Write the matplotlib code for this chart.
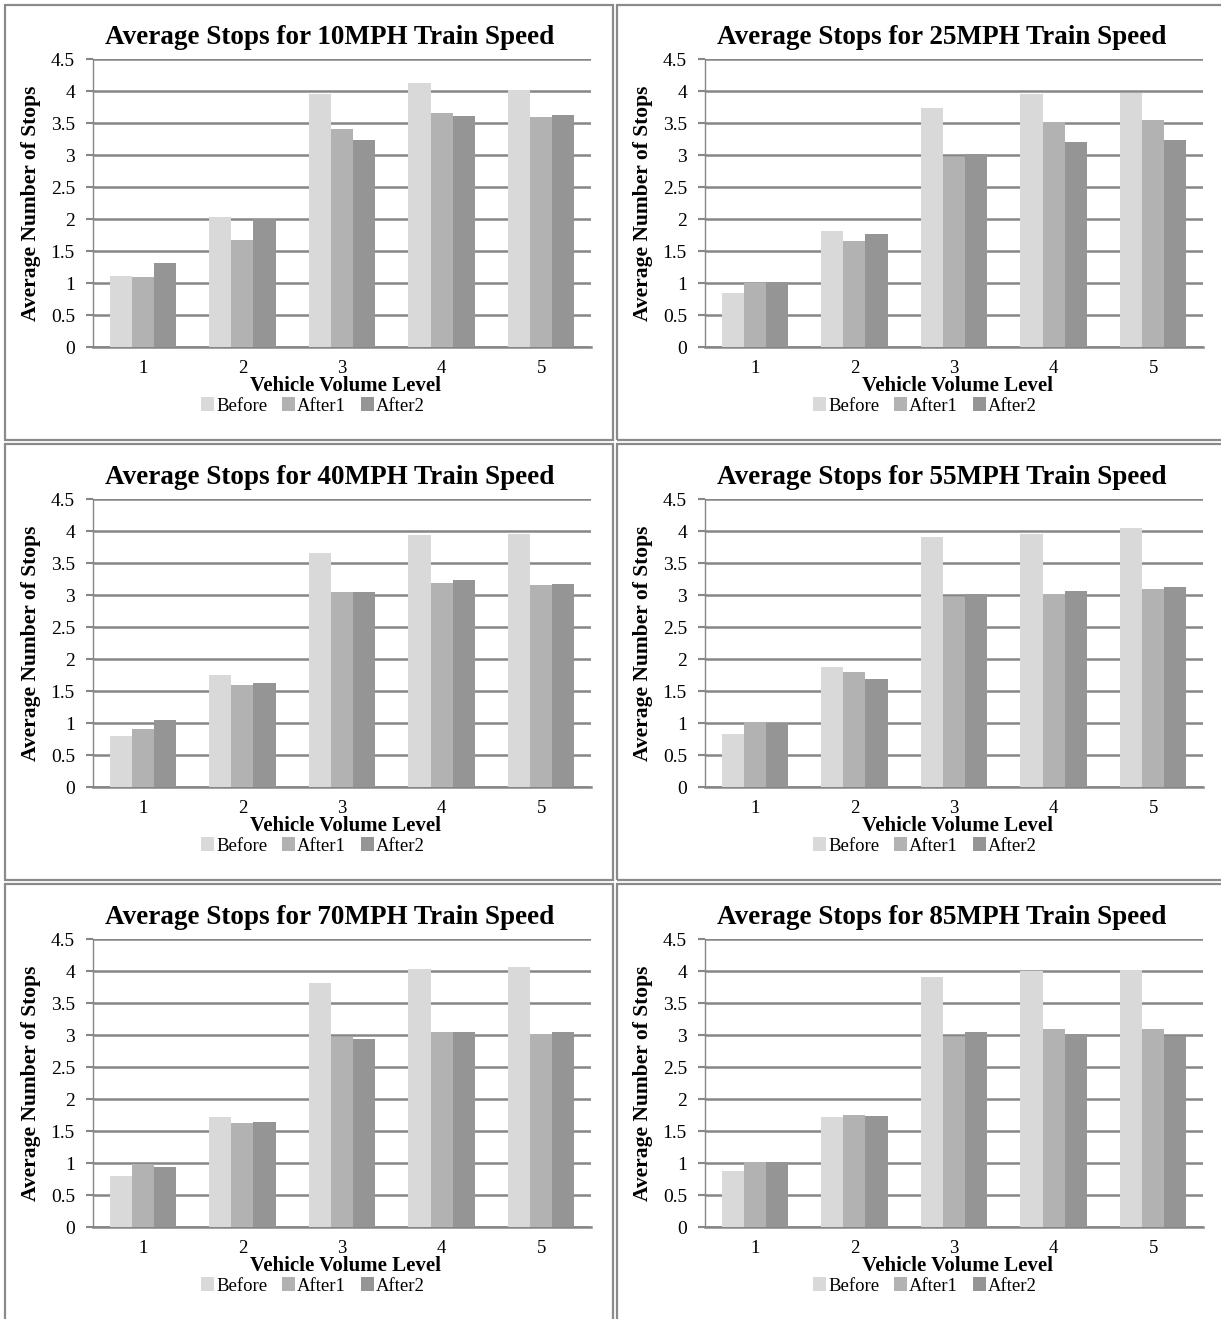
import matplotlib.pyplot as plt
import numpy as np
from matplotlib.patches import Rectangle

# Vehicle volume levels (x categories)
levels = [1, 2, 3, 4, 5]
series_names = ['Before', 'After1', 'After2']
speeds = ['10MPH', '25MPH', '40MPH', '55MPH', '70MPH', '85MPH']

# Average number of stops, per train speed
before_10 = [1.11, 2.03, 3.95, 4.12, 4.01]
after1_10 = [1.10, 1.67, 3.41, 3.65, 3.60]
after2_10 = [1.32, 2.00, 3.23, 3.61, 3.62]

before_25 = [0.84, 1.82, 3.73, 3.95, 3.97]
after1_25 = [1.00, 1.66, 2.97, 3.51, 3.54]
after2_25 = [1.01, 1.76, 3.01, 3.21, 3.24]

before_40 = [0.79, 1.75, 3.65, 3.93, 3.96]
after1_40 = [0.90, 1.60, 3.05, 3.18, 3.15]
after2_40 = [1.04, 1.62, 3.05, 3.24, 3.17]

before_55 = [0.83, 1.87, 3.90, 3.95, 4.05]
after1_55 = [1.02, 1.79, 2.97, 3.02, 3.09]
after2_55 = [1.00, 1.68, 3.02, 3.07, 3.12]

before_70 = [0.79, 1.72, 3.82, 4.03, 4.06]
after1_70 = [0.98, 1.63, 2.97, 3.04, 3.02]
after2_70 = [0.93, 1.64, 2.94, 3.04, 3.04]

before_85 = [0.88, 1.72, 3.91, 4.00, 4.01]
after1_85 = [1.02, 1.75, 2.97, 3.09, 3.09]
after2_85 = [1.02, 1.74, 3.04, 3.01, 2.98]

panels = [
    (before_10, after1_10, after2_10),
    (before_25, after1_25, after2_25),
    (before_40, after1_40, after2_40),
    (before_55, after1_55, after2_55),
    (before_70, after1_70, after2_70),
    (before_85, after1_85, after2_85),
]

colors = ['#d9d9d9', '#b2b2b2', '#959595']
grid_color = '#868686'

plt.rcParams['font.family'] = ['Liberation Serif', 'DejaVu Serif']

W, H = 1221, 1319
fig = plt.figure(figsize=(W / 100, H / 100), dpi=100)

# axes positions in pixels: (left, right) per column, zero-line y per row
col_x = [(93, 591), (705, 1203)]
row_zero = [347, 787, 1227]
plot_h = 288

# panel frames (pixels: x0, y0, x1, y1) - right/bottom ones run off the page
frames = [(5, 5, 613, 440), (617, 5, 1235, 440),
          (5, 444, 613, 880), (617, 444, 1235, 880),
          (5, 884, 613, 1335), (617, 884, 1235, 1335)]

for (x0, y0, x1, y1) in frames:
    fig.add_artist(Rectangle((x0 / W, 1 - y1 / H), (x1 - x0) / W, (y1 - y0) / H,
                             transform=fig.transFigure, fill=False,
                             edgecolor='#8a8a8a', linewidth=1.6))

x = np.arange(len(levels)) + 1
width = 0.222

for i, (speed, data) in enumerate(zip(speeds, panels)):
    row, col = divmod(i, 2)
    left, right = col_x[col]
    bottom = 1 - row_zero[row] / H
    ax = fig.add_axes([left / W, bottom, (right - left) / W, plot_h / H])

    for j, (vals, name) in enumerate(zip(data, series_names)):
        ax.bar(x + (j - 1) * width, vals, width, color=colors[j], label=name,
               zorder=3)

    ax.set_xlim(0.5, 5.5)
    ax.set_ylim(0, 4.5)
    ax.set_yticks(np.arange(0, 4.51, 0.5))
    ax.set_yticklabels(['0', '0.5', '1', '1.5', '2', '2.5', '3', '3.5', '4', '4.5'],
                       fontsize=14)
    ax.set_xticks(x)
    ax.set_xticklabels([str(l) for l in levels], fontsize=13.5)
    ax.tick_params(axis='x', length=0, pad=9.5)
    ax.tick_params(axis='y', length=5, width=1.5, color=grid_color, pad=8)
    ax.grid(True, axis='y', color=grid_color, linewidth=1.8, zorder=0)
    for s in ['top', 'right']:
        ax.spines[s].set_visible(False)
    ax.spines['left'].set_color(grid_color)
    ax.spines['left'].set_linewidth(1.0)
    ax.spines['bottom'].set_color(grid_color)
    ax.spines['bottom'].set_linewidth(1.8)

    ax.set_title(f'Average Stops for {speed} Train Speed', fontsize=19.5,
                 fontweight='bold', pad=10.5, x=0.476)
    ax.set_ylabel('Average Number of Stops', fontsize=15.5, fontweight='bold',
                  labelpad=7)
    ax.set_xlabel('Vehicle Volume Level', fontsize=15, fontweight='bold',
                  va='center')
    ax.xaxis.set_label_coords(0.508, -39 / plot_h)
    ax.legend(loc='center', bbox_to_anchor=(0.442, -59 / plot_h), ncol=3,
              frameon=False, fontsize=13.5, handlelength=0.7, handleheight=0.7,
              handletextpad=0.1, columnspacing=0.8, borderaxespad=0,
              borderpad=0)

fig.savefig('out.png', dpi=100)
